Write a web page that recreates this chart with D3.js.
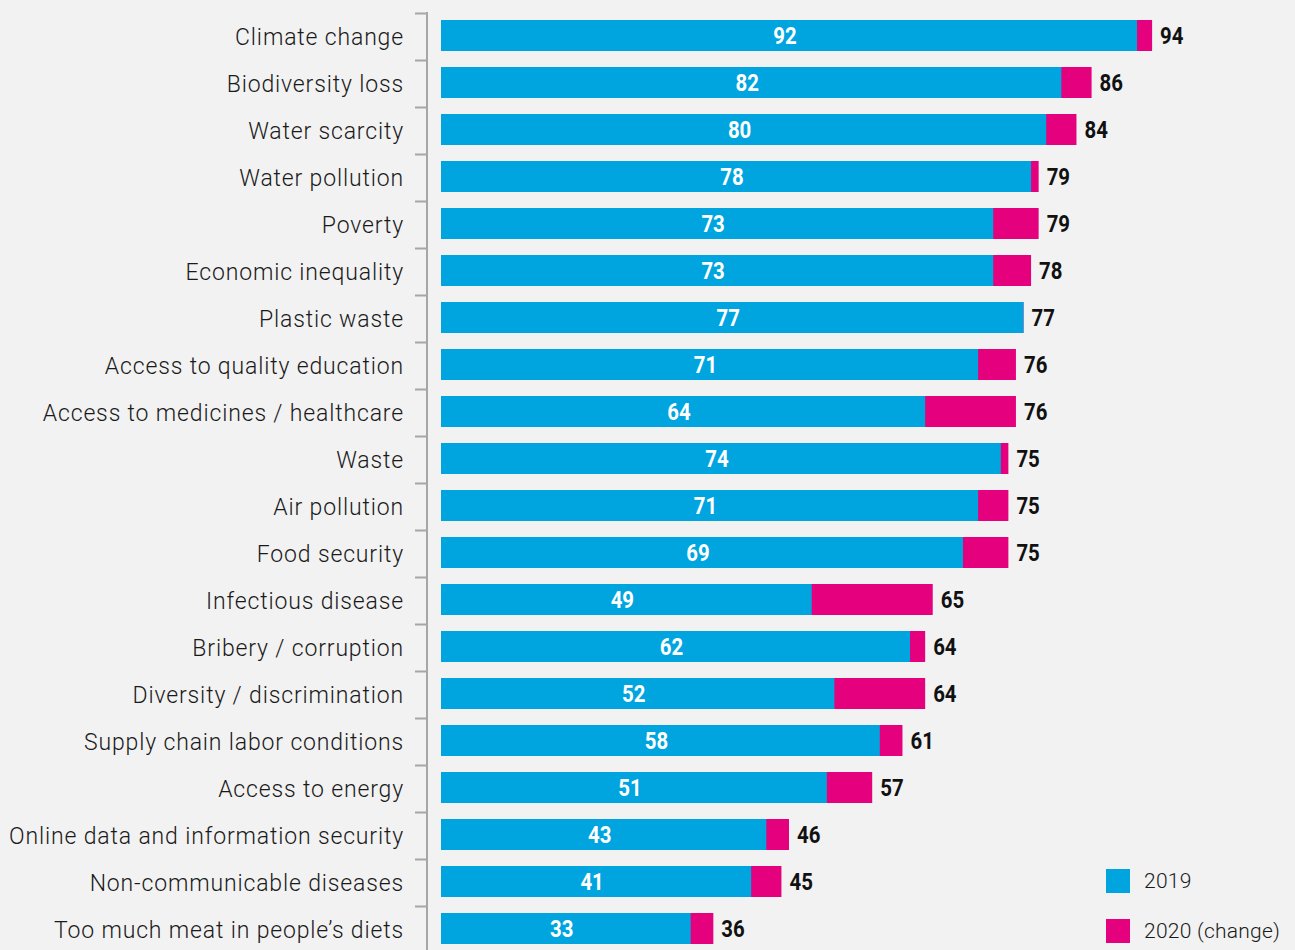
<!DOCTYPE html>
<html>
<head>
<meta charset="utf-8">
<script src="https://cdn.jsdelivr.net/npm/d3@7"></script>
<style>
  body { margin: 0; background: #f2f2f2; }
  svg { display: block; }
  .cat { font-family: Roboto, sans-serif; font-weight: 300; font-size: 23px; letter-spacing: 0.85px; fill: #1a1a1a; }
  .num { font-family: Roboto, sans-serif; font-weight: bold; font-size: 24px; }
  .leg { font-family: Roboto, sans-serif; font-weight: 300; font-size: 21px; letter-spacing: 0.25px; fill: #1a1a1a; }
</style>
</head>
<body>
<svg id="chart" width="1295" height="950"></svg>
<script>
// issues ranked by 2020 share, with the 2019 share
var categories = ["Climate change", "Biodiversity loss", "Water scarcity", "Water pollution", "Poverty",
  "Economic inequality", "Plastic waste", "Access to quality education", "Access to medicines / healthcare",
  "Waste", "Air pollution", "Food security", "Infectious disease", "Bribery / corruption",
  "Diversity / discrimination", "Supply chain labor conditions", "Access to energy",
  "Online data and information security", "Non-communicable diseases", "Too much meat in people\u2019s diets"];
var values2019 = [92, 82, 80, 78, 73, 73, 77, 71, 64, 74, 71, 69, 49, 62, 52, 58, 51, 43, 41, 33];
var values2020 = [94, 86, 84, 79, 79, 78, 77, 76, 76, 75, 75, 75, 65, 64, 64, 61, 57, 46, 45, 36];
var legendLabels = ["2019", "2020 (change)"];

var blue = "#00a5df", pink = "#e5007e";

var svg = d3.select("#chart");
var data = categories.map(function(c, i) {
  return { cat: c, v19: values2019[i], v20: values2020[i] };
});

var x = d3.scaleLinear().domain([0, 100]).range([441, 441 + 756.5]);
var y = d3.scaleBand().domain(categories).range([12, 12 + 20 * 47]);
var barH = 31;
var barY = function(d) { return y(d.cat) + y.bandwidth() / 2 - barH / 2; };
var midY = function(d) { return y(d.cat) + y.bandwidth() / 2; };

// left axis with ticks on top of each band
var axisX = 427;
svg.append("line")
  .attr("x1", axisX).attr("x2", axisX)
  .attr("y1", 12).attr("y2", 950)
  .attr("stroke", "#a6a6a6").attr("stroke-width", 2);
svg.selectAll(".tick").data(categories).enter().append("line")
  .attr("x1", 415).attr("x2", axisX)
  .attr("y1", function(d) { return y(d) + 1.5; })
  .attr("y2", function(d) { return y(d) + 1.5; })
  .attr("stroke", "#a6a6a6").attr("stroke-width", 2);

svg.selectAll(".cat").data(data).enter().append("text")
  .attr("class", "cat")
  .attr("x", 404)
  .attr("y", function(d) { return midY(d) + 1; })
  .attr("dy", "0.35em")
  .attr("text-anchor", "end")
  .text(function(d) { return d.cat; });

var row = svg.selectAll(".row").data(data).enter().append("g").attr("class", "row");

row.append("rect")
  .attr("x", x(0))
  .attr("y", barY)
  .attr("width", function(d) { return x(d.v20) - x(0); })
  .attr("height", barH)
  .attr("fill", pink);

row.append("rect")
  .attr("x", x(0))
  .attr("y", barY)
  .attr("width", function(d) { return x(d.v19) - x(0); })
  .attr("height", barH)
  .attr("fill", blue);

// condensed bold numbers: squeeze Roboto bold horizontally
var squeeze = 0.85;
row.append("g")
  .attr("transform", function(d) { return "translate(" + ((x(0) + x(d.v19)) / 2 - 4) + "," + (midY(d) + 0.5) + ") scale(" + squeeze + ",1)"; })
  .append("text")
  .attr("class", "num")
  .attr("dy", "0.35em")
  .attr("text-anchor", "middle")
  .attr("fill", "#fff")
  .text(function(d) { return d.v19; });

row.append("g")
  .attr("transform", function(d) { return "translate(" + (x(d.v20) + 8) + "," + (midY(d) + 0.5) + ") scale(" + squeeze + ",1)"; })
  .append("text")
  .attr("class", "num")
  .attr("dy", "0.35em")
  .attr("fill", "#111")
  .text(function(d) { return d.v20; });

// legend
var leg = svg.selectAll(".legitem").data(legendLabels).enter().append("g")
  .attr("transform", function(d, i) { return "translate(1106," + (869 + i * 50) + ")"; });
leg.append("rect").attr("width", 24).attr("height", 24)
  .attr("fill", function(d, i) { return i === 0 ? blue : pink; });
leg.append("text").attr("class", "leg")
  .attr("x", 38).attr("y", 12).attr("dy", "0.35em")
  .text(function(d) { return d; });
</script>
</body>
</html>
